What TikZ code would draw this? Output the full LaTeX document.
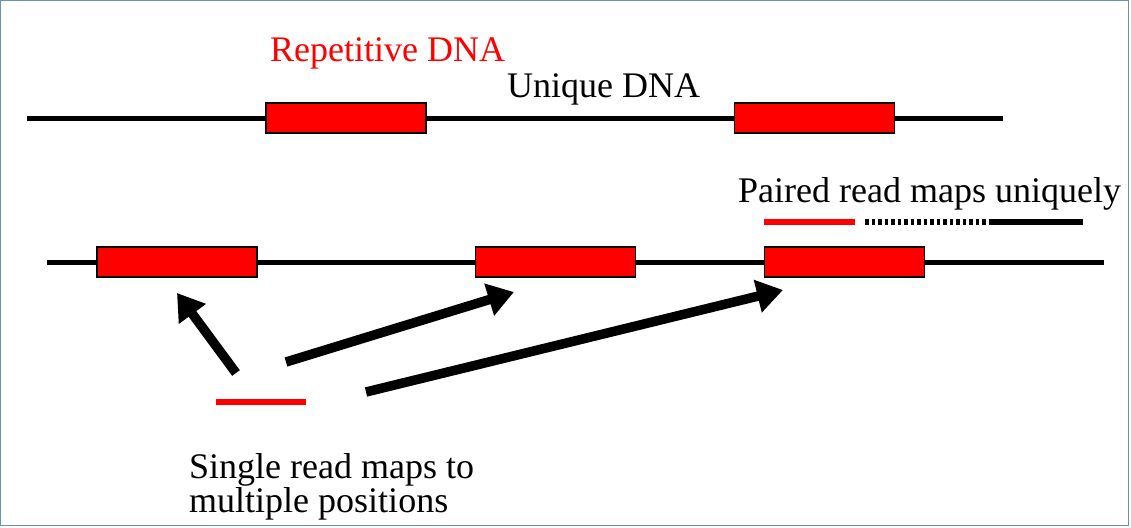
\documentclass[tikz,border=0pt]{standalone}
\usepackage{fontspec}
\setmainfont{LiberationSerif}[Extension=.ttf, UprightFont=*-Regular, BoldFont=*-Bold]
\usepackage{xcolor}
\usetikzlibrary{arrows.meta}
\definecolor{framecol}{HTML}{6F8FAF}

\begin{document}
\begin{tikzpicture}[x=1pt,y=-1pt,
  dna/.style={line width=5pt},
  rep/.style={draw=black, line width=1.8pt, fill=red, minimum width=160pt, minimum height=30pt, inner sep=0pt},
  lbl/.style={anchor=base west, inner sep=0pt, font=\fontsize{36}{32}\selectfont},
  readline/.style={line width=5.5pt},
  maparrow/.style={line width=9.5pt, -{Triangle[length=26pt,width=32pt]}}]
\useasboundingbox (0,0) rectangle (1131,527);
\draw[framecol, line width=1.3pt] (0.6,0.6) rectangle (1128.5,525.5);
% genome 1
\coordinate (g1a) at (27,118);
\coordinate (g1b) at (1003,118);
\draw[dna] (g1a)--(g1b);
\node[rep] (r1) at (346,118) {};
\node[rep] (r2) at (814.5,118) {};
\node[lbl, red] (rep) at (270,62) {Repetitive DNA};
\node[lbl] (uni) at (507,97) {Unique DNA};
% genome 2
\coordinate (g2a) at (47,262);
\coordinate (g2b) at (1104,262);
\draw[dna] (g2a)--(g2b);
\node[rep] (s1) at (177,262) {};
\node[rep] (s2) at (555.5,262) {};
\node[rep] (s3) at (844.5,262) {};
% paired read
\node[lbl] (pair) at (738,202) {Paired read maps uniquely};
\coordinate (p0) at (764,222);
\coordinate (p1) at (855,222);
\coordinate (p2) at (865,222);
\coordinate (p3) at (990,222);
\coordinate (p4) at (1083,222);
\draw[readline, red] (p0)--(p1);
\draw[readline, dash pattern=on 3.5pt off 3pt] (p2)--(p3);
\draw[readline] (p3)--(p4);
% single read
\coordinate (q0) at (216,402);
\coordinate (q1) at (306,402);
\draw[readline, red] (q0)--(q1);
\coordinate (a1) at (236,373);
\coordinate (b1) at (177,293);
\coordinate (a2) at (286,362);
\coordinate (b2) at (514,292);
\coordinate (a3) at (366,392);
\coordinate (b3) at (783,290);
\draw[maparrow] (a1)--(b1);
\draw[maparrow] (a2)--(b2);
\draw[maparrow] (a3)--(b3);
\node[lbl, align=left] (single) at (189,512) {Single read maps to\\multiple positions};
\end{tikzpicture}
\end{document}
